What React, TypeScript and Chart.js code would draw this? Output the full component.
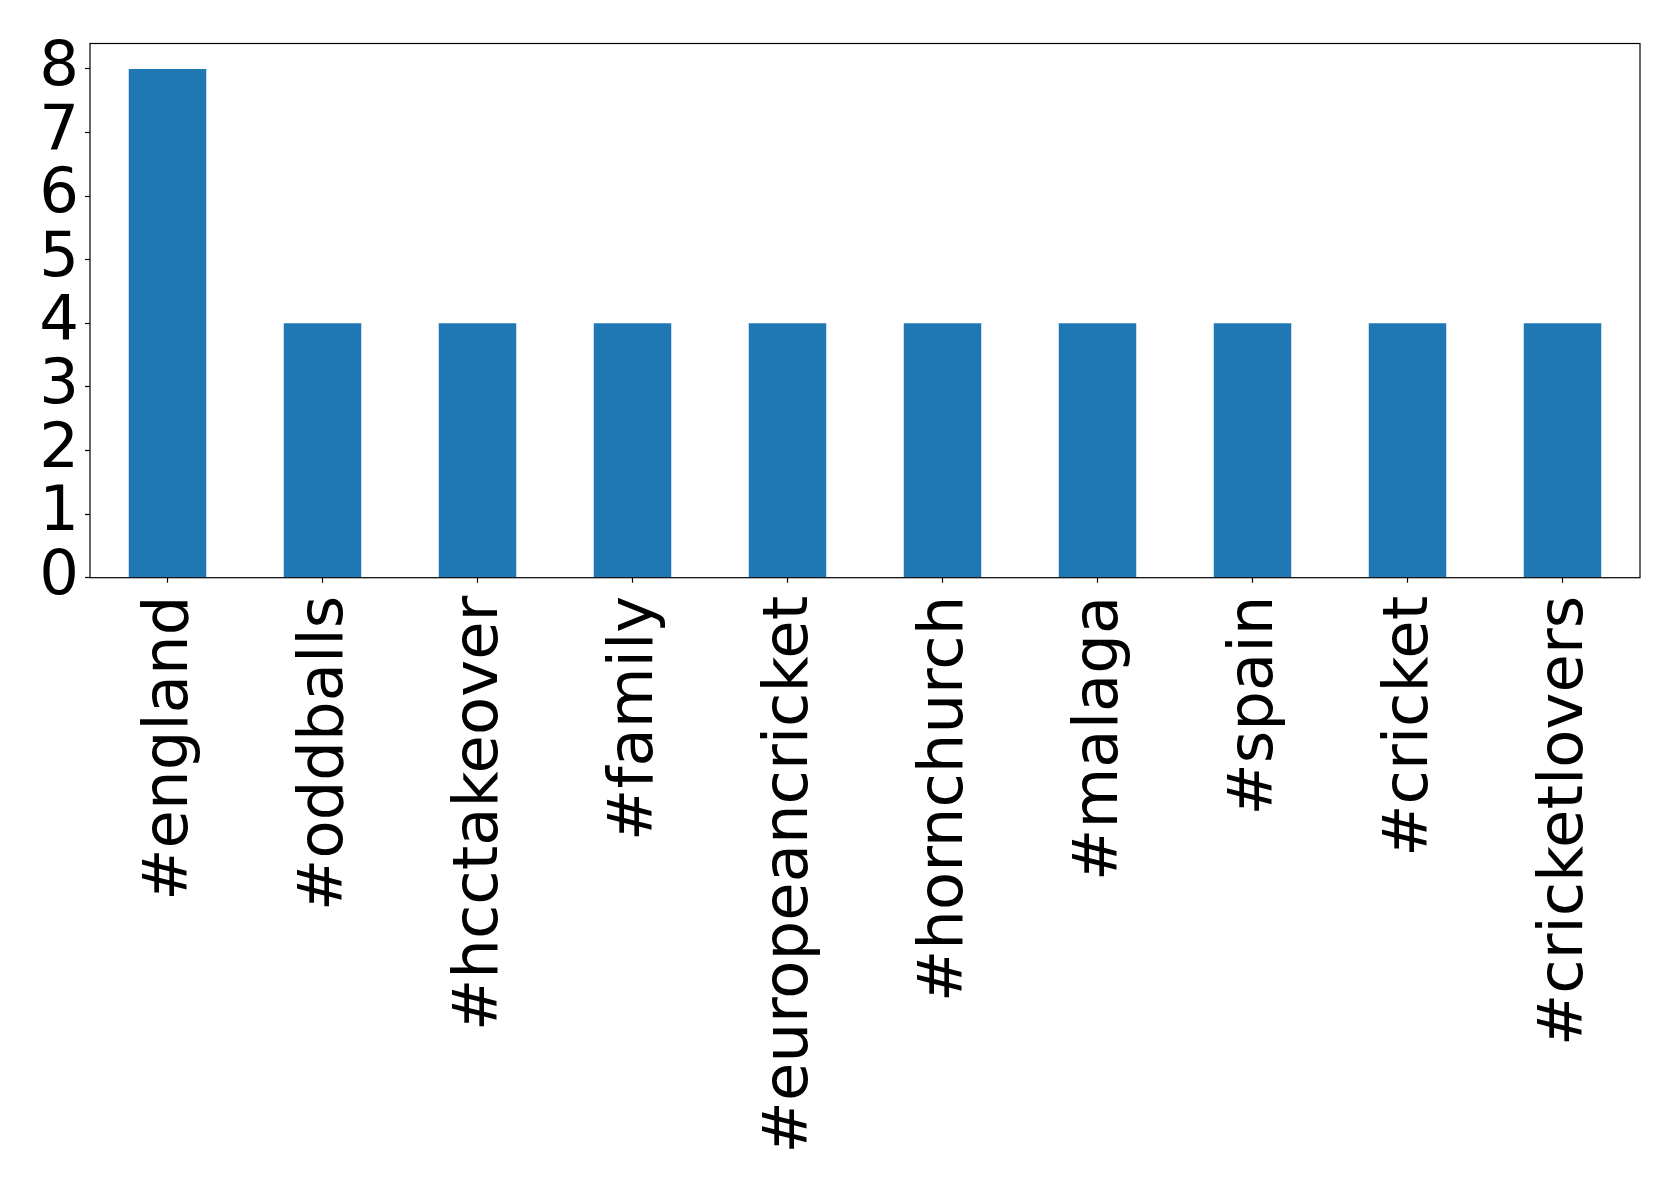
import React, { useEffect, useRef } from "react";
import { Chart, registerables } from "chart.js";

Chart.register(...registerables);

const categories: string[] = [
  "#england",
  "#oddballs",
  "#hcctakeover",
  "#family",
  "#europeancricket",
  "#hornchurch",
  "#malaga",
  "#spain",
  "#cricket",
  "#cricketlovers",
];
const counts: number[] = [8, 4, 4, 4, 4, 4, 4, 4, 4, 4];
const yTicks: number[] = [0, 1, 2, 3, 4, 5, 6, 7, 8];
const yMax = 8.4;

const W = 1679;
const H = 1186;
const AREA_LEFT = 90;
const AREA_TOP = 39.3;
const AREA_RIGHT = 1640;
const AREA_BOTTOM = 577.7;

const framePlugin = {
  id: "frame",
  afterDraw(chart: any) {
    const { ctx, chartArea } = chart;
    ctx.save();
    ctx.strokeStyle = "#000000";
    ctx.lineWidth = 1.2;
    ctx.strokeRect(
      chartArea.left,
      chartArea.top,
      chartArea.right - chartArea.left,
      chartArea.bottom - chartArea.top
    );
    ctx.restore();
  },
};

export default function App() {
  const ref = useRef<HTMLCanvasElement | null>(null);

  useEffect(() => {
    document.body.style.margin = "0";
    const canvas = ref.current;
    if (!canvas) return;
    const font = { family: "'DejaVu Sans', sans-serif", size: 62.5 };
    const chart = new Chart(canvas, {
      type: "bar",
      data: {
        labels: categories,
        datasets: [
          {
            data: counts,
            backgroundColor: "#1f77b4",
            borderWidth: 0,
            categoryPercentage: 1,
            barPercentage: 0.5,
          },
        ],
      },
      options: {
        animation: false,
        responsive: true,
        maintainAspectRatio: false,
        layout: {
          padding: { left: 0, top: AREA_TOP, right: W - AREA_RIGHT, bottom: 0 },
        },
        plugins: {
          legend: { display: false },
          tooltip: { enabled: false },
          title: { display: false },
        },
        scales: {
          x: {
            type: "category",
            offset: true,
            grid: {
              offset: false,
              drawOnChartArea: false,
              drawTicks: true,
              tickLength: 5,
              tickColor: "#000000",
              tickWidth: 1.2,
            },
            border: { display: false },
            ticks: {
              autoSkip: false,
              maxRotation: 90,
              minRotation: 90,
              padding: 13,
              labelOffset: 3,
              color: "#000000",
              font,
            },
            afterFit(scale: any) {
              scale.height = H - AREA_BOTTOM;
            },
          },
          y: {
            min: 0,
            max: yMax,
            grid: {
              drawOnChartArea: false,
              drawTicks: true,
              tickLength: 5,
              tickColor: "#000000",
              tickWidth: 1.2,
            },
            border: { display: false },
            ticks: {
              autoSkip: false,
              padding: 6,
              color: "#000000",
              font,
            },
            afterBuildTicks(scale: any) {
              scale.ticks = yTicks.map((v) => ({ value: v }));
            },
            afterFit(scale: any) {
              scale.width = AREA_LEFT;
            },
          },
        },
      },
      plugins: [framePlugin],
    });
    return () => chart.destroy();
  }, []);

  return (
    <div style={{ width: W, height: H, position: "relative" }}>
      <canvas ref={ref} />
    </div>
  );
}
